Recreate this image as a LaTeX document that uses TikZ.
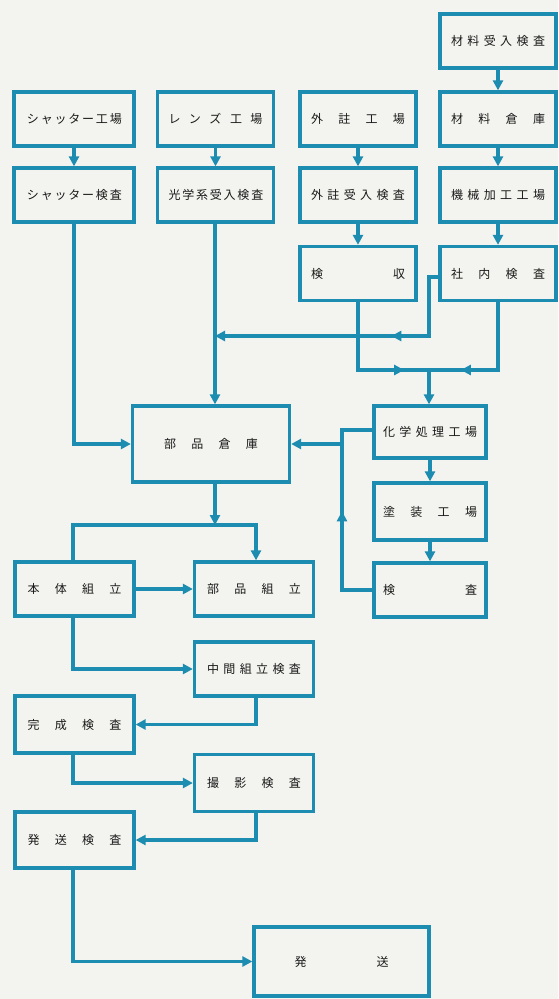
\documentclass[tikz,border=0pt]{standalone}
\usepackage{fontspec}
\newfontfamily\jpfont{Noto Sans CJK JP}
\usepackage{tikz}
\usetikzlibrary{arrows.meta,decorations.markings}
\definecolor{flowblue}{RGB}{28,140,176}
\definecolor{paper}{RGB}{243,243,239}
\newcommand{\spr}[1]{\makebox[94pt][s]{#1}}

\begin{document}
\begin{tikzpicture}[x=1pt,y=-1pt,
    box/.style={draw=flowblue, line width=3.3pt, minimum width=116pt, minimum height=54pt,
        inner sep=0pt, font=\jpfont\fontsize{12}{14}\selectfont, text=black!90},
    ln/.style={color=flowblue, line width=3.2pt},
    arr/.style={ln, -{Triangle[length=10pt,width=10pt]}},
    midarr/.style={ln, postaction={decorate}, decoration={markings,
        mark=at position #1 with {\arrow{Triangle[length=10pt,width=10pt]}}}}]
    % Paper
    \fill[paper] (0,0) rectangle (558,999);
    \useasboundingbox (0,0) rectangle (558,999);

    % Nodes
    \node[box] (matin) at (498,41) {\spr{材 料 受 入 検 査}};
    \node[box, minimum width=120pt] (shutfac) at (74,119) {\spr{シ ャ ッ タ ー 工 場}};
    \node[box] (lensfac) at (215.5,119) {\spr{レ ン ズ 工 場}};
    \node[box] (outfac) at (358,119) {\spr{外 註 工 場}};
    \node[box] (matstore) at (498,119) {\spr{材 料 倉 庫}};
    \node[box, minimum width=120pt] (shutinsp) at (74,195) {\spr{シ ャ ッ タ ー 検 査}};
    \node[box] (lensinsp) at (215.5,195) {\spr{光 学 系 受 入 検 査}};
    \node[box] (outinsp) at (358,195) {\spr{外 註 受 入 検 査}};
    \node[box] (machfac) at (498,195) {\spr{機 械 加 工 工 場}};
    \node[box] (accept) at (358,273.5) {\spr{検 収}};
    \node[box] (inhouse) at (498,273.5) {\spr{社 内 検 査}};
    \node[box, minimum width=157pt, minimum height=76pt] (partstore) at (211,444) {\spr{部 品 倉 庫}};
    \node[box, minimum width=112pt, minimum height=52pt] (chemfac) at (430,432) {\spr{化 学 処 理 工 場}};
    \node[box, minimum width=112pt, minimum height=57pt] (paintfac) at (430,511.5) {\spr{塗 装 工 場}};
    \node[box, minimum width=112pt] (finalinsp) at (430,590) {\spr{検 査}};
    \node[box, minimum width=119pt] (body) at (74.5,589) {\spr{本 体 組 立}};
    \node[box, minimum width=119pt] (subasm) at (254,589) {\spr{部 品 組 立}};
    \node[box, minimum width=119pt] (midinsp) at (254,669) {\spr{中 間 組 立 検 査}};
    \node[box, minimum width=119pt, minimum height=57pt] (doneinsp) at (74.5,724.5) {\spr{完 成 検 査}};
    \node[box, minimum width=119pt, minimum height=57pt] (photoinsp) at (254,783) {\spr{撮 影 検 査}};
    \node[box, minimum width=119pt, minimum height=56pt] (shipinsp) at (74.5,840) {\spr{発 送 検 査}};
    \node[box, minimum width=175pt, minimum height=69pt] (ship) at (341.5,961.5) {\spr{発 送}};

    % Junctions
    \coordinate (lensj) at (215,336);
    \coordinate (turn) at (429,336);
    \coordinate (merge) at (429,370);
    \coordinate (loop) at (342,444);
    \coordinate (split) at (215,525);

    % Arrows
    \draw[arr] (matin) -- (matstore);
    \draw[arr] (shutfac) -- (shutinsp);
    \draw[arr] (lensfac) -- (lensinsp);
    \draw[arr] (outfac) -- (outinsp);
    \draw[arr] (matstore) -- (machfac);
    \draw[arr] (outinsp) -- (accept);
    \draw[arr] (machfac) -- (inhouse);
    \draw[arr] (shutinsp) |- (partstore);
    \draw[arr] (lensinsp.south -| lensj) -- (partstore.north -| lensj);
    \draw[arr, midarr=106pt] (inhouse.west |- 0,277) -| (turn) -- (lensj);
    \draw[midarr=114pt] (accept.south) |- (merge);
    \draw[midarr=105pt] (inhouse.south) |- (merge);
    \draw[arr] (merge) -- (merge |- chemfac.north);
    \draw[arr] (chemfac) -- (paintfac);
    \draw[arr] (paintfac) -- (finalinsp);
    \draw[ln] (chemfac.west |- 0,430) -| (loop);
    \draw[arr, midarr=109pt] (finalinsp.west) -| (loop) -- (partstore.east);
    \draw[arr] (partstore.south -| split) -- (split);
    \draw[ln] (split) -| (body.north -| 73,0);
    \draw[arr] (split) -| (subasm.north -| 256,0);
    \draw[arr] (body) -- (subasm);
    \draw[arr] (body.south -| 73,0) |- (midinsp.west);
    \draw[arr] (midinsp.south -| 256,0) |- (doneinsp.east);
    \draw[arr] (doneinsp.south -| 73,0) |- (photoinsp.west);
    \draw[arr] (photoinsp.south -| 256,0) |- (shipinsp.east);
    \draw[arr] (shipinsp.south -| 73,0) |- (ship.west);
\end{tikzpicture}
\end{document}
